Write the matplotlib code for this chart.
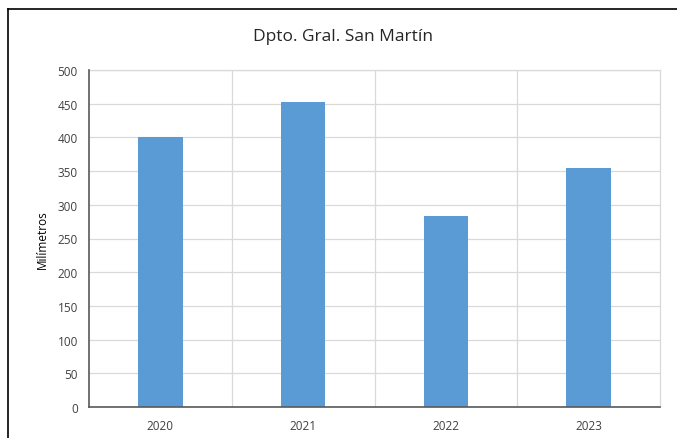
import matplotlib.pyplot as plt
from matplotlib.lines import Line2D

years = ['2020', '2021', '2022', '2023']
milimetros = [400, 452, 283, 355]

plt.rcParams['font.family'] = ['Open Sans', 'DejaVu Sans']

fig = plt.figure(figsize=(6.77, 4.39), dpi=100)
ax = fig.add_axes([89/677, 1 - 408/439, (660-89)/677, (408-71)/439])

x = range(len(years))
ax.bar(x, milimetros, width=0.31, color='#5B9BD5', zorder=3)

ax.set_xlim(-0.5, len(years) - 0.5)
ax.set_ylim(0, 500)
ax.set_yticks(range(0, 501, 50))
ax.set_xticks(list(x))
ax.set_xticklabels(years)
ax.set_xticks([i + 0.5 for i in range(len(years) - 1)], minor=True)

ax.grid(axis='y', which='major', color='#D9D9D9', linewidth=0.9, zorder=0)
ax.grid(axis='x', which='minor', color='#D9D9D9', linewidth=0.9, zorder=0)
ax.tick_params(which='both', length=0)
ax.tick_params(axis='both', labelsize=8.5, colors='#404040')
ax.tick_params(axis='x', pad=9)
ax.tick_params(axis='y', pad=8)

for side in ['left', 'bottom']:
    ax.spines[side].set_color('#595959')
    ax.spines[side].set_linewidth(1.2)
    ax.spines[side].set_zorder(4)
for side in ['top', 'right']:
    ax.spines[side].set_color('#D9D9D9')
    ax.spines[side].set_linewidth(0.9)

ax.set_ylabel('Milímetros', fontsize=8.5, color='#000000', labelpad=6)
fig.text(343/677, 1 - 37/439, 'Dpto. Gral. San Martín', ha='center', va='center',
         fontsize=12.5, color='#262626')

# chart frame (top and left edge only)
fig.add_artist(Line2D([8/677, 1], [1 - 10/439, 1 - 10/439], color='black', linewidth=1.2))
fig.add_artist(Line2D([8/677, 8/677], [0, 1 - 10/439], color='black', linewidth=1.2))

fig.savefig('out.png', dpi=100)
